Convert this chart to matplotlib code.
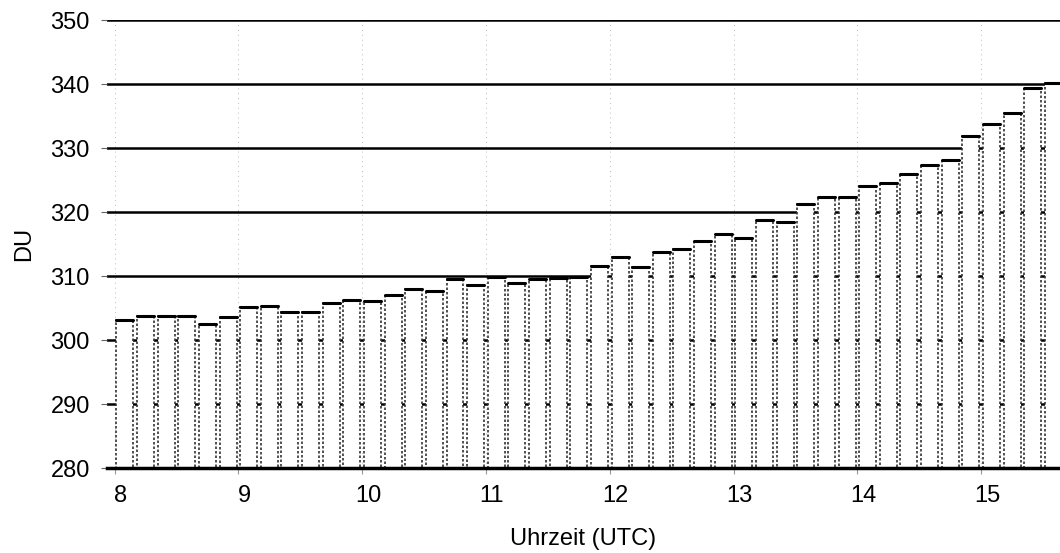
import matplotlib
matplotlib.use("Agg")
import matplotlib.pyplot as plt
import matplotlib.transforms as mtransforms

# ---- data ----
times = ["08:05", "08:15", "08:25", "08:35", "08:45", "08:55",
         "09:05", "09:15", "09:25", "09:35", "09:45", "09:55",
         "10:05", "10:15", "10:25", "10:35", "10:45", "10:55",
         "11:05", "11:15", "11:25", "11:35", "11:45", "11:55",
         "12:05", "12:15", "12:25", "12:35", "12:45", "12:55",
         "13:05", "13:15", "13:25", "13:35", "13:45", "13:55",
         "14:05", "14:15", "14:25", "14:35", "14:45", "14:55",
         "15:05", "15:15", "15:25", "15:35"]
ozone_du = [303.1, 303.7, 303.7, 303.7, 302.5, 303.6,
            305.1, 305.3, 304.4, 304.3, 305.8, 306.3,
            306.1, 307.1, 308.0, 307.7, 309.5, 308.6,
            309.9, 308.9, 309.6, 309.7, 309.8, 311.6,
            313.0, 311.4, 313.7, 314.2, 315.4, 316.5,
            315.9, 318.7, 318.5, 321.2, 322.3, 322.3,
            324.0, 324.5, 326.0, 327.4, 328.2, 331.9,
            333.8, 335.5, 339.3, 340.2]
x_ticks = [8, 9, 10, 11, 12, 13, 14, 15]
y_ticks = [280, 290, 300, 310, 320, 330, 340, 350]

hours = [int(t.split(":")[0]) + int(t.split(":")[1]) / 60 for t in times]

plt.rcParams['font.family'] = ['Liberation Sans', 'DejaVu Sans']

fig = plt.figure(figsize=(10.6, 5.53), dpi=100)
ax = fig.add_axes([0.1005, 0.1537, 0.8995, 0.8101])

base = 280
width = 0.137
heights = [v - base for v in ozone_du]

# horizontal grid (black, behind bars)
for yv in y_ticks[1:]:
    ax.axhline(yv, color="black", lw=1.8, zorder=1)
# faint vertical dotted grid
for xv in x_ticks:
    ax.axvline(xv, color="#bbbbbb", lw=0.7, ls=(0, (1, 4)), zorder=0.5)

ax.bar(hours, heights, bottom=base, width=width, color="white",
       edgecolor="#333333", linewidth=1.2, linestyle=(0, (1.5, 1.2)),
       zorder=2)
ax.hlines(ozone_du, [h - width / 2 for h in hours],
          [h + width / 2 for h in hours], color="black", lw=2.2,
          capstyle="round", zorder=3)

ax.set_xlim(7.935, 15.637)
ax.set_ylim(280, 350)

for s in ["top", "right", "left"]:
    ax.spines[s].set_visible(False)
ax.spines["bottom"].set_linewidth(2.5)
ax.spines["bottom"].set_zorder(4)

ax.set_xticks(x_ticks)
ax.set_xticklabels([str(v) for v in x_ticks], fontsize=17)
ax.set_yticks(y_ticks)
ax.set_yticklabels([str(v) for v in y_ticks], fontsize=17)
ax.tick_params(axis="x", length=4, width=0.8, color="#999999", pad=8)
ax.tick_params(axis="y", length=4, width=0.8, color="#666666", pad=8)

offset = mtransforms.ScaledTranslation(6 / 100, 0, fig.dpi_scale_trans)
for lbl in ax.get_xticklabels():
    lbl.set_transform(lbl.get_transform() + offset)

ax.set_xlabel("Uhrzeit (UTC)", fontsize=17, labelpad=15)
ax.set_ylabel("DU", fontsize=17, labelpad=11)

fig.savefig("out.png", dpi=100)
